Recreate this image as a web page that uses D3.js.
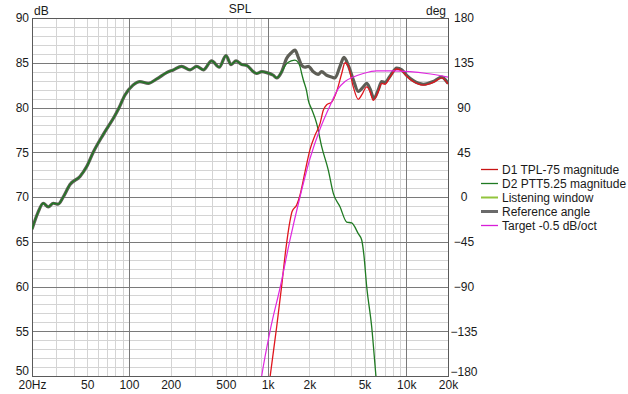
<!DOCTYPE html>
<html>
<head>
<meta charset="utf-8">
<script src="https://cdn.jsdelivr.net/npm/d3@7"></script>
<style>
  body { margin: 0; background: #ffffff; }
  svg text { font-family: "Liberation Sans", Arial, sans-serif; font-size: 12px; fill: #1a1a1a; }
</style>
</head>
<body>
<script>
// axis ticks
const freqTicks = [20, 50, 100, 200, 500, 1000, 2000, 5000, 10000, 20000];
const freqLabels = ["20Hz", "50", "100", "200", "500", "1k", "2k", "5k", "10k", "20k"];
const dbTicks = [50, 55, 60, 65, 70, 75, 80, 85, 90];
const degTicks = [-180, -135, -90, -45, 0, 45, 90, 135, 180];

// series: [frequency Hz, dB]
const refAngle = [
  [20, 66.4], [22, 68.2], [24.1, 69.3], [26.2, 68.9], [28.5, 69.3], [30.9, 69.2], [33.6, 70.0],
  [37.6, 71.4], [44.4, 72.3], [49.6, 73.4], [55.3, 75.0], [65.4, 77.0], [79.3, 79.1], [83.8, 79.8],
  [93.7, 81.4], [107, 82.5], [120, 82.9], [138, 82.7], [159, 83.2], [187, 83.9], [209, 84.2],
  [240, 84.6], [276, 84.2], [308, 84.6], [344, 84.2], [395, 85.2], [448, 84.5], [501, 85.8],
  [545, 84.8], [592, 85.2], [650, 84.8], [707, 84.7], [789, 84.0], [834, 83.8], [907, 84.0],
  [985, 83.9], [1099, 83.6], [1163, 83.3], [1264, 84.0], [1373, 85.5], [1480, 86.1], [1576, 86.4],
  [1665, 85.6], [1761, 84.7], [1860, 84.5], [1966, 84.6], [2136, 84.0], [2320, 83.7], [2450, 84.0],
  [2668, 83.6], [2900, 83.4], [3062, 83.3], [3328, 84.6], [3556, 85.6], [3820, 84.7], [4150, 83.1],
  [4508, 81.8], [4900, 82.3], [5184, 82.7], [5476, 82.1], [5852, 81.0], [6286, 82.0], [6650, 82.9],
  [7024, 82.8], [7632, 83.5], [8532, 84.4], [9272, 84.2], [10072, 83.6], [11238, 83.0],
  [13270, 82.6], [15664, 82.9], [18010, 83.4], [20000, 82.7]
];

const d2Ptt = [
  [20, 66.4], [22, 68.2], [24.1, 69.3], [26.2, 68.9], [28.5, 69.3], [30.9, 69.2], [33.6, 70.0],
  [37.6, 71.4], [44.4, 72.3], [49.6, 73.4], [55.3, 75.0], [65.4, 77.0], [79.3, 79.1], [83.8, 79.8],
  [93.7, 81.4], [107, 82.5], [120, 82.9], [138, 82.7], [159, 83.2], [187, 83.9], [209, 84.2],
  [240, 84.6], [276, 84.2], [308, 84.6], [344, 84.2], [395, 85.2], [448, 84.5], [501, 85.8],
  [545, 84.8], [592, 85.2], [650, 84.8], [707, 84.7], [789, 84.0], [834, 83.8], [907, 84.0],
  [985, 83.9], [1099, 83.6], [1163, 83.3], [1264, 84.0], [1373, 84.9], [1480, 85.2], [1576, 85.3],
  [1665, 85.0], [1712, 84.6], [1761, 83.8], [1809, 83.1], [1914, 81.8], [1966, 80.8], [2080, 79.8],
  [2260, 78.2], [2458, 75.6], [2740, 73.0], [2978, 70.4], [3328, 68.9], [3720, 67.2], [4042, 67.1],
  [4508, 65.9], [4772, 65.2], [4950, 63.5], [5184, 60.0], [5632, 55.5], [6020, 50.3], [6200, 48.0]
];

const d1Tpl = [
  [980, 46.5], [1044, 50.0], [1163, 55.5], [1264, 60.1], [1350, 64.0], [1450, 67.3], [1504, 68.4],
  [1621, 69.1], [1712, 70.2], [1861, 72.8], [2022, 75.3], [2198, 76.9], [2388, 78.2], [2522, 79.7],
  [2668, 80.3], [2898, 80.6], [3150, 81.8], [3424, 83.8], [3616, 85.0], [3820, 84.6], [4150, 82.3],
  [4508, 80.9], [4772, 81.4], [5184, 82.3], [5476, 81.8], [5784, 80.8], [6286, 81.8], [6650, 82.7],
  [7024, 82.6], [7632, 83.4], [8532, 84.3], [9272, 84.1], [10072, 83.5], [11238, 82.9],
  [13270, 82.5], [15664, 82.8], [18010, 83.3], [20000, 82.6]
];

const target = [
  [850, 47.0], [907, 50.0], [1044, 55.1], [1236, 60.0], [1450, 65.2], [1712, 70.0], [2022, 74.3],
  [2388, 77.6], [2818, 80.2], [3234, 82.1], [3616, 82.9], [4150, 83.4], [4900, 83.8], [6120, 84.1],
  [8062, 84.1], [10638, 84.0], [14040, 83.8], [20000, 83.4]
];

const legendNames = ["D1 TPL-75 magnitude", "D2 PTT5.25 magnitude", "Listening window", "Reference angle", "Target -0.5 dB/oct"];
const legendColors = ["#c81414", "#1f7a22", "#92c43c", "#6a6a6a", "#d81ed8"];

const width = 628, height = 394;
const plot = { left: 32, top: 18, right: 448, bottom: 376 };

const svg = d3.select("body").append("svg")
  .attr("width", width)
  .attr("height", height);

const x = d3.scaleLog().domain([20, 20000]).range([plot.left, plot.right]);
const y = d3.scaleLinear().domain([50, 90]).range([plot.bottom, plot.top]);
const yDeg = d3.scaleLinear().domain([-180, 180]).range([plot.bottom, plot.top]);

svg.append("defs").append("clipPath").attr("id", "clip")
  .append("rect")
  .attr("x", plot.left).attr("y", plot.top)
  .attr("width", plot.right - plot.left).attr("height", plot.bottom - plot.top);

// grid
const grid = svg.append("g").attr("shape-rendering", "crispEdges");
const isMajorF = f => Math.abs(Math.log10(f) - Math.round(Math.log10(f))) < 1e-6;

grid.selectAll(".vminor").data(x.ticks().filter(f => !isMajorF(f)))
  .enter().append("line")
  .attr("x1", d => Math.round(x(d)) + 0.5).attr("x2", d => Math.round(x(d)) + 0.5)
  .attr("y1", plot.top).attr("y2", plot.bottom)
  .attr("stroke", "#d4d4d4");

grid.selectAll(".hminor").data(y.ticks(40).filter(v => v % 5 !== 0))
  .enter().append("line")
  .attr("x1", plot.left).attr("x2", plot.right)
  .attr("y1", d => Math.round(y(d)) + 0.5).attr("y2", d => Math.round(y(d)) + 0.5)
  .attr("stroke", "#d4d4d4");

grid.selectAll(".vmajor").data(x.ticks().filter(isMajorF))
  .enter().append("line")
  .attr("x1", d => Math.round(x(d)) + 0.5).attr("x2", d => Math.round(x(d)) + 0.5)
  .attr("y1", plot.top).attr("y2", plot.bottom)
  .attr("stroke", "#7a7a7a");

grid.selectAll(".hmajor").data(dbTicks)
  .enter().append("line")
  .attr("x1", plot.left).attr("x2", plot.right)
  .attr("y1", d => Math.round(y(d)) + 0.5).attr("y2", d => Math.round(y(d)) + 0.5)
  .attr("stroke", "#7a7a7a");

// frame
grid.append("rect")
  .attr("x", plot.left + 0.5).attr("y", plot.top + 0.5)
  .attr("width", plot.right - plot.left).attr("height", plot.bottom - plot.top)
  .attr("fill", "none").attr("stroke", "#5a5a5a");

// curves
const line = d3.line()
  .x(d => x(d[0]))
  .y(d => y(d[1]))
  .curve(d3.curveMonotoneX);

const curves = svg.append("g").attr("clip-path", "url(#clip)");

curves.append("path").datum(refAngle)
  .attr("d", line).attr("fill", "none")
  .attr("stroke", "#5e5e56").attr("stroke-width", 3.2)
  .attr("stroke-linejoin", "round");

curves.append("path").datum(d2Ptt)
  .attr("d", line).attr("fill", "none")
  .attr("stroke", legendColors[1]).attr("stroke-width", 1.3);

curves.append("path").datum(d1Tpl)
  .attr("d", line).attr("fill", "none")
  .attr("stroke", "#e0161e").attr("stroke-width", 1.3);

curves.append("path").datum(target)
  .attr("d", line).attr("fill", "none")
  .attr("stroke", "#e028e0").attr("stroke-width", 1.2);

// axes labels
const leftAxis = svg.append("g")
  .attr("transform", `translate(${plot.left},0)`)
  .call(d3.axisLeft(y).tickValues(dbTicks).tickSize(0).tickPadding(3));
leftAxis.select(".domain").remove();
// lowest labels sit a little higher to clear the frequency labels
leftAxis.selectAll(".tick").filter(d => d === 50).select("text").attr("y", -5);

const rightAxis = svg.append("g")
  .attr("transform", `translate(${plot.right},0)`)
  .call(d3.axisRight(yDeg).tickValues(degTicks).tickSize(0).tickPadding(16));
rightAxis.select(".domain").remove();
rightAxis.selectAll("text").attr("text-anchor", "middle");
rightAxis.selectAll(".tick").filter(d => d === -180).select("text").attr("y", -4);

const bottomAxis = svg.append("g")
  .attr("transform", `translate(0,${plot.bottom})`)
  .call(d3.axisBottom(x).tickValues(freqTicks).tickSize(0).tickPadding(4)
    .tickFormat((d, i) => freqLabels[i]));
bottomAxis.select(".domain").remove();

svg.selectAll(".tick text").attr("fill", "#1a1a1a")
  .style("font-family", '"Liberation Sans", Arial, sans-serif').style("font-size", "12px");

svg.append("text").attr("x", (plot.left + plot.right) / 2).attr("y", 13)
  .attr("text-anchor", "middle").text("SPL");
svg.append("text").attr("x", 34).attr("y", 15).text("dB");
svg.append("text").attr("x", 446).attr("y", 15).attr("text-anchor", "end").text("deg");

// legend
const legend = svg.append("g").attr("transform", "translate(481,169)");
const items = legend.selectAll("g").data(legendNames).enter().append("g")
  .attr("transform", (d, i) => `translate(0,${i * 14})`);
items.append("line")
  .attr("x1", 0).attr("x2", 17).attr("y1", 0.5).attr("y2", 0.5)
  .attr("stroke", (d, i) => legendColors[i])
  .attr("stroke-width", (d, i) => i === 3 ? 3 : (i === 2 ? 2 : 1.3));
items.append("text").attr("x", 21).attr("y", 4.5).text(d => d);
</script>
</body>
</html>
